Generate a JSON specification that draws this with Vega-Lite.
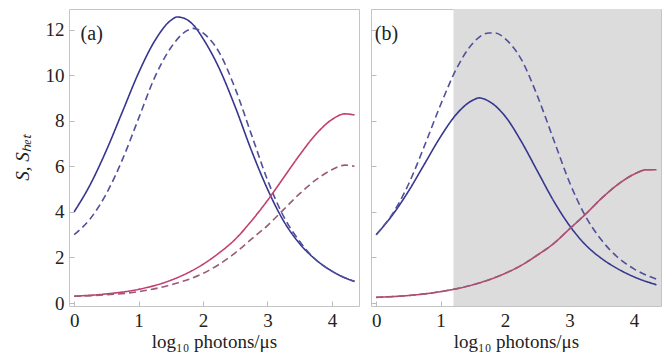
{
  "$schema": "https://vega.github.io/schema/vega-lite/v6.json",
  "padding": {"left": 12, "top": 8, "right": 4, "bottom": 2},
  "background": "white",
  "config": {
    "font": "Liberation Serif",
    "view": {"stroke": "#c4c4c4", "strokeWidth": 1},
    "text": {"font": "Liberation Serif"},
    "axis": {
      "domain": false,
      "grid": false,
      "labelFont": "Liberation Serif",
      "labelFontSize": 19,
      "labelColor": "#222222",
      "titleFont": "Liberation Serif",
      "titleFontSize": 19,
      "titleFontWeight": "normal",
      "titleColor": "#222222",
      "tickColor": "#bbbbbb",
      "tickSize": -5,
      "labelPadding": 10,
      "format": "d"
    }
  },
  "datasets": {
    "curves": [
      {"p":"a","k":"a-blue-solid","d":"solid","x":0,"y":4.0},
      {"p":"a","k":"a-blue-solid","d":"solid","x":0.25,"y":5.2},
      {"p":"a","k":"a-blue-solid","d":"solid","x":0.5,"y":6.7},
      {"p":"a","k":"a-blue-solid","d":"solid","x":0.75,"y":8.4},
      {"p":"a","k":"a-blue-solid","d":"solid","x":1.0,"y":10.1},
      {"p":"a","k":"a-blue-solid","d":"solid","x":1.25,"y":11.5},
      {"p":"a","k":"a-blue-solid","d":"solid","x":1.5,"y":12.4},
      {"p":"a","k":"a-blue-solid","d":"solid","x":1.6,"y":12.55},
      {"p":"a","k":"a-blue-solid","d":"solid","x":1.7,"y":12.5},
      {"p":"a","k":"a-blue-solid","d":"solid","x":1.85,"y":12.2},
      {"p":"a","k":"a-blue-solid","d":"solid","x":2.0,"y":11.6},
      {"p":"a","k":"a-blue-solid","d":"solid","x":2.25,"y":10.3},
      {"p":"a","k":"a-blue-solid","d":"solid","x":2.5,"y":8.6},
      {"p":"a","k":"a-blue-solid","d":"solid","x":2.75,"y":6.7},
      {"p":"a","k":"a-blue-solid","d":"solid","x":3.0,"y":5.0},
      {"p":"a","k":"a-blue-solid","d":"solid","x":3.25,"y":3.6},
      {"p":"a","k":"a-blue-solid","d":"solid","x":3.5,"y":2.6},
      {"p":"a","k":"a-blue-solid","d":"solid","x":3.75,"y":1.9},
      {"p":"a","k":"a-blue-solid","d":"solid","x":4.0,"y":1.4},
      {"p":"a","k":"a-blue-solid","d":"solid","x":4.25,"y":1.05},
      {"p":"a","k":"a-blue-solid","d":"solid","x":4.35,"y":0.95},

      {"p":"a","k":"a-blue-dashed","d":"dashed","x":0,"y":3.0},
      {"p":"a","k":"a-blue-dashed","d":"dashed","x":0.25,"y":3.7},
      {"p":"a","k":"a-blue-dashed","d":"dashed","x":0.5,"y":4.8},
      {"p":"a","k":"a-blue-dashed","d":"dashed","x":0.75,"y":6.3},
      {"p":"a","k":"a-blue-dashed","d":"dashed","x":1.0,"y":8.1},
      {"p":"a","k":"a-blue-dashed","d":"dashed","x":1.25,"y":9.9},
      {"p":"a","k":"a-blue-dashed","d":"dashed","x":1.5,"y":11.2},
      {"p":"a","k":"a-blue-dashed","d":"dashed","x":1.75,"y":11.95},
      {"p":"a","k":"a-blue-dashed","d":"dashed","x":1.85,"y":12.05},
      {"p":"a","k":"a-blue-dashed","d":"dashed","x":2.0,"y":11.85},
      {"p":"a","k":"a-blue-dashed","d":"dashed","x":2.25,"y":11.0},
      {"p":"a","k":"a-blue-dashed","d":"dashed","x":2.5,"y":9.4},
      {"p":"a","k":"a-blue-dashed","d":"dashed","x":2.75,"y":7.4},
      {"p":"a","k":"a-blue-dashed","d":"dashed","x":3.0,"y":5.4},
      {"p":"a","k":"a-blue-dashed","d":"dashed","x":3.25,"y":3.8},
      {"p":"a","k":"a-blue-dashed","d":"dashed","x":3.5,"y":2.7},
      {"p":"a","k":"a-blue-dashed","d":"dashed","x":3.75,"y":1.9},
      {"p":"a","k":"a-blue-dashed","d":"dashed","x":4.0,"y":1.4},
      {"p":"a","k":"a-blue-dashed","d":"dashed","x":4.25,"y":1.05},
      {"p":"a","k":"a-blue-dashed","d":"dashed","x":4.35,"y":0.95},

      {"p":"a","k":"a-red-solid","d":"solid","x":0,"y":0.3},
      {"p":"a","k":"a-red-solid","d":"solid","x":0.5,"y":0.4},
      {"p":"a","k":"a-red-solid","d":"solid","x":1.0,"y":0.6},
      {"p":"a","k":"a-red-solid","d":"solid","x":1.5,"y":1.0},
      {"p":"a","k":"a-red-solid","d":"solid","x":2.0,"y":1.7},
      {"p":"a","k":"a-red-solid","d":"solid","x":2.25,"y":2.2},
      {"p":"a","k":"a-red-solid","d":"solid","x":2.5,"y":2.8},
      {"p":"a","k":"a-red-solid","d":"solid","x":2.75,"y":3.6},
      {"p":"a","k":"a-red-solid","d":"solid","x":3.0,"y":4.5},
      {"p":"a","k":"a-red-solid","d":"solid","x":3.25,"y":5.5},
      {"p":"a","k":"a-red-solid","d":"solid","x":3.5,"y":6.5},
      {"p":"a","k":"a-red-solid","d":"solid","x":3.75,"y":7.4},
      {"p":"a","k":"a-red-solid","d":"solid","x":4.0,"y":8.05},
      {"p":"a","k":"a-red-solid","d":"solid","x":4.2,"y":8.3},
      {"p":"a","k":"a-red-solid","d":"solid","x":4.35,"y":8.25},

      {"p":"a","k":"a-red-dashed","d":"dashed","x":0,"y":0.3},
      {"p":"a","k":"a-red-dashed","d":"dashed","x":0.5,"y":0.36},
      {"p":"a","k":"a-red-dashed","d":"dashed","x":1.0,"y":0.5},
      {"p":"a","k":"a-red-dashed","d":"dashed","x":1.5,"y":0.8},
      {"p":"a","k":"a-red-dashed","d":"dashed","x":2.0,"y":1.3},
      {"p":"a","k":"a-red-dashed","d":"dashed","x":2.25,"y":1.7},
      {"p":"a","k":"a-red-dashed","d":"dashed","x":2.5,"y":2.2},
      {"p":"a","k":"a-red-dashed","d":"dashed","x":2.75,"y":2.8},
      {"p":"a","k":"a-red-dashed","d":"dashed","x":3.0,"y":3.4},
      {"p":"a","k":"a-red-dashed","d":"dashed","x":3.25,"y":4.1},
      {"p":"a","k":"a-red-dashed","d":"dashed","x":3.5,"y":4.8},
      {"p":"a","k":"a-red-dashed","d":"dashed","x":3.75,"y":5.4},
      {"p":"a","k":"a-red-dashed","d":"dashed","x":4.0,"y":5.85},
      {"p":"a","k":"a-red-dashed","d":"dashed","x":4.2,"y":6.05},
      {"p":"a","k":"a-red-dashed","d":"dashed","x":4.35,"y":6.0},

      {"p":"b","k":"b-blue-solid","d":"solid","x":0,"y":3.0},
      {"p":"b","k":"b-blue-solid","d":"solid","x":0.25,"y":3.85},
      {"p":"b","k":"b-blue-solid","d":"solid","x":0.5,"y":4.9},
      {"p":"b","k":"b-blue-solid","d":"solid","x":0.75,"y":6.1},
      {"p":"b","k":"b-blue-solid","d":"solid","x":1.0,"y":7.3},
      {"p":"b","k":"b-blue-solid","d":"solid","x":1.25,"y":8.3},
      {"p":"b","k":"b-blue-solid","d":"solid","x":1.5,"y":8.9},
      {"p":"b","k":"b-blue-solid","d":"solid","x":1.6,"y":9.0},
      {"p":"b","k":"b-blue-solid","d":"solid","x":1.75,"y":8.85},
      {"p":"b","k":"b-blue-solid","d":"solid","x":2.0,"y":8.2},
      {"p":"b","k":"b-blue-solid","d":"solid","x":2.25,"y":7.1},
      {"p":"b","k":"b-blue-solid","d":"solid","x":2.5,"y":5.8},
      {"p":"b","k":"b-blue-solid","d":"solid","x":2.75,"y":4.5},
      {"p":"b","k":"b-blue-solid","d":"solid","x":3.0,"y":3.4},
      {"p":"b","k":"b-blue-solid","d":"solid","x":3.25,"y":2.55},
      {"p":"b","k":"b-blue-solid","d":"solid","x":3.5,"y":1.95},
      {"p":"b","k":"b-blue-solid","d":"solid","x":3.75,"y":1.5},
      {"p":"b","k":"b-blue-solid","d":"solid","x":4.0,"y":1.15},
      {"p":"b","k":"b-blue-solid","d":"solid","x":4.35,"y":0.8},

      {"p":"b","k":"b-blue-dashed","d":"dashed","x":0,"y":3.0},
      {"p":"b","k":"b-blue-dashed","d":"dashed","x":0.25,"y":3.9},
      {"p":"b","k":"b-blue-dashed","d":"dashed","x":0.5,"y":5.2},
      {"p":"b","k":"b-blue-dashed","d":"dashed","x":0.75,"y":6.9},
      {"p":"b","k":"b-blue-dashed","d":"dashed","x":1.0,"y":8.7},
      {"p":"b","k":"b-blue-dashed","d":"dashed","x":1.25,"y":10.3},
      {"p":"b","k":"b-blue-dashed","d":"dashed","x":1.5,"y":11.4},
      {"p":"b","k":"b-blue-dashed","d":"dashed","x":1.75,"y":11.85},
      {"p":"b","k":"b-blue-dashed","d":"dashed","x":1.85,"y":11.85},
      {"p":"b","k":"b-blue-dashed","d":"dashed","x":2.0,"y":11.6},
      {"p":"b","k":"b-blue-dashed","d":"dashed","x":2.25,"y":10.7},
      {"p":"b","k":"b-blue-dashed","d":"dashed","x":2.5,"y":9.1},
      {"p":"b","k":"b-blue-dashed","d":"dashed","x":2.75,"y":7.2},
      {"p":"b","k":"b-blue-dashed","d":"dashed","x":3.0,"y":5.3},
      {"p":"b","k":"b-blue-dashed","d":"dashed","x":3.25,"y":3.8},
      {"p":"b","k":"b-blue-dashed","d":"dashed","x":3.5,"y":2.75},
      {"p":"b","k":"b-blue-dashed","d":"dashed","x":3.75,"y":2.0},
      {"p":"b","k":"b-blue-dashed","d":"dashed","x":4.0,"y":1.5},
      {"p":"b","k":"b-blue-dashed","d":"dashed","x":4.35,"y":1.05},

      {"p":"b","k":"b-red-solid","d":"solid","x":0,"y":0.25},
      {"p":"b","k":"b-red-solid","d":"solid","x":0.5,"y":0.33},
      {"p":"b","k":"b-red-solid","d":"solid","x":1.0,"y":0.5},
      {"p":"b","k":"b-red-solid","d":"solid","x":1.5,"y":0.8},
      {"p":"b","k":"b-red-solid","d":"solid","x":2.0,"y":1.3},
      {"p":"b","k":"b-red-solid","d":"solid","x":2.25,"y":1.65},
      {"p":"b","k":"b-red-solid","d":"solid","x":2.5,"y":2.1},
      {"p":"b","k":"b-red-solid","d":"solid","x":2.75,"y":2.6},
      {"p":"b","k":"b-red-solid","d":"solid","x":3.0,"y":3.25},
      {"p":"b","k":"b-red-solid","d":"solid","x":3.25,"y":3.9},
      {"p":"b","k":"b-red-solid","d":"solid","x":3.5,"y":4.6},
      {"p":"b","k":"b-red-solid","d":"solid","x":3.75,"y":5.2},
      {"p":"b","k":"b-red-solid","d":"solid","x":4.0,"y":5.65},
      {"p":"b","k":"b-red-solid","d":"solid","x":4.2,"y":5.85},
      {"p":"b","k":"b-red-solid","d":"solid","x":4.35,"y":5.85},

      {"p":"b","k":"b-red-dashed","d":"dashed","x":0,"y":0.25},
      {"p":"b","k":"b-red-dashed","d":"dashed","x":0.5,"y":0.33},
      {"p":"b","k":"b-red-dashed","d":"dashed","x":1.0,"y":0.5},
      {"p":"b","k":"b-red-dashed","d":"dashed","x":1.5,"y":0.8},
      {"p":"b","k":"b-red-dashed","d":"dashed","x":2.0,"y":1.3},
      {"p":"b","k":"b-red-dashed","d":"dashed","x":2.25,"y":1.65},
      {"p":"b","k":"b-red-dashed","d":"dashed","x":2.5,"y":2.1},
      {"p":"b","k":"b-red-dashed","d":"dashed","x":2.75,"y":2.6},
      {"p":"b","k":"b-red-dashed","d":"dashed","x":3.0,"y":3.25},
      {"p":"b","k":"b-red-dashed","d":"dashed","x":3.25,"y":3.9},
      {"p":"b","k":"b-red-dashed","d":"dashed","x":3.5,"y":4.6},
      {"p":"b","k":"b-red-dashed","d":"dashed","x":3.75,"y":5.2},
      {"p":"b","k":"b-red-dashed","d":"dashed","x":4.0,"y":5.65},
      {"p":"b","k":"b-red-dashed","d":"dashed","x":4.2,"y":5.85},
      {"p":"b","k":"b-red-dashed","d":"dashed","x":4.35,"y":5.85}
    ],
    "labels": [
      {"p":"a","t":"(a)","x":0.1,"y":11.8},
      {"p":"b","t":"(b)","x":-0.02,"y":11.8}
    ],
    "shade": [
      {"x0":1.2,"x1":4.42}
    ]
  },
  "spacing": 10,
  "hconcat": [
    {
      "width": 290,
      "height": 297,
      "layer": [
        {
          "data": {"name": "curves"},
          "transform": [{"filter": "datum.p === 'a'"}],
          "mark": {"type": "line", "interpolate": "monotone", "strokeWidth": 1.6},
          "encoding": {
            "x": {"field": "x", "type": "quantitative",
                  "scale": {"domain": [-0.08, 4.42], "nice": false, "zero": false},
                  "axis": {"values": [0,1,2,3,4], "format": "d", "labelFont": "Liberation Serif", "titleFont": "Liberation Serif", "title": "log₁₀ photons/μs", "titlePadding": 2}},
            "y": {"field": "y", "type": "quantitative",
                  "scale": {"domain": [-0.13, 12.9], "nice": false, "zero": false},
                  "axis": {"values": [0,2,4,6,8,10,12], "format": "d", "labelFont": "Liberation Serif", "titleFont": "Liberation Serif", "title": "S, Sₕₑₜ", "titleFontStyle": "italic", "titlePadding": 13}},
            "detail": {"field": "k", "type": "nominal"},
            "color": {"field": "k", "type": "nominal", "legend": null,
                      "scale": {"domain": ["a-blue-solid","a-blue-dashed","a-red-solid","a-red-dashed"],
                                "range": ["#36368f","#50509c","#c0406e","#9a5a78"]}},
            "strokeDash": {"field": "d", "type": "nominal", "legend": null,
                           "scale": {"domain": ["solid","dashed"], "range": [[1,0],[7,4]]}}
          }
        },
        {
          "data": {"name": "labels"},
          "transform": [{"filter": "datum.p === 'a'"}],
          "mark": {"type": "text", "align": "left", "baseline": "middle", "fontSize": 20, "font": "Liberation Serif", "color": "#222222"},
          "encoding": {
            "x": {"field": "x", "type": "quantitative"},
            "y": {"field": "y", "type": "quantitative"},
            "text": {"field": "t", "type": "nominal"}
          }
        }
      ]
    },
    {
      "width": 290,
      "height": 297,
      "layer": [
        {
          "data": {"name": "shade"},
          "mark": {"type": "rect", "color": "#dcdcdc"},
          "encoding": {
            "x": {"field": "x0", "type": "quantitative",
                  "scale": {"domain": [-0.08, 4.42], "nice": false, "zero": false},
                  "axis": {"values": [0,1,2,3,4], "format": "d", "labelFont": "Liberation Serif", "titleFont": "Liberation Serif", "title": "log₁₀ photons/μs", "titlePadding": 2}},
            "x2": {"field": "x1"}
          }
        },
        {
          "data": {"name": "curves"},
          "transform": [{"filter": "datum.p === 'b'"}],
          "mark": {"type": "line", "interpolate": "monotone", "strokeWidth": 1.6},
          "encoding": {
            "x": {"field": "x", "type": "quantitative"},
            "y": {"field": "y", "type": "quantitative",
                  "scale": {"domain": [-0.13, 12.9], "nice": false, "zero": false},
                  "axis": {"values": [0,2,4,6,8,10,12], "labels": false, "title": null}},
            "detail": {"field": "k", "type": "nominal"},
            "color": {"field": "k", "type": "nominal", "legend": null,
                      "scale": {"domain": ["b-blue-solid","b-blue-dashed","b-red-solid","b-red-dashed"],
                                "range": ["#45459f","#4a4a9a","#b4234f","#b4234f"]}},
            "strokeDash": {"field": "d", "type": "nominal", "legend": null,
                           "scale": {"domain": ["solid","dashed"], "range": [[1,0],[7,4]]}}
          }
        },
        {
          "data": {"name": "labels"},
          "transform": [{"filter": "datum.p === 'b'"}],
          "mark": {"type": "text", "align": "left", "baseline": "middle", "fontSize": 20, "font": "Liberation Serif", "color": "#222222"},
          "encoding": {
            "x": {"field": "x", "type": "quantitative"},
            "y": {"field": "y", "type": "quantitative"},
            "text": {"field": "t", "type": "nominal"}
          }
        }
      ]
    }
  ]
}
